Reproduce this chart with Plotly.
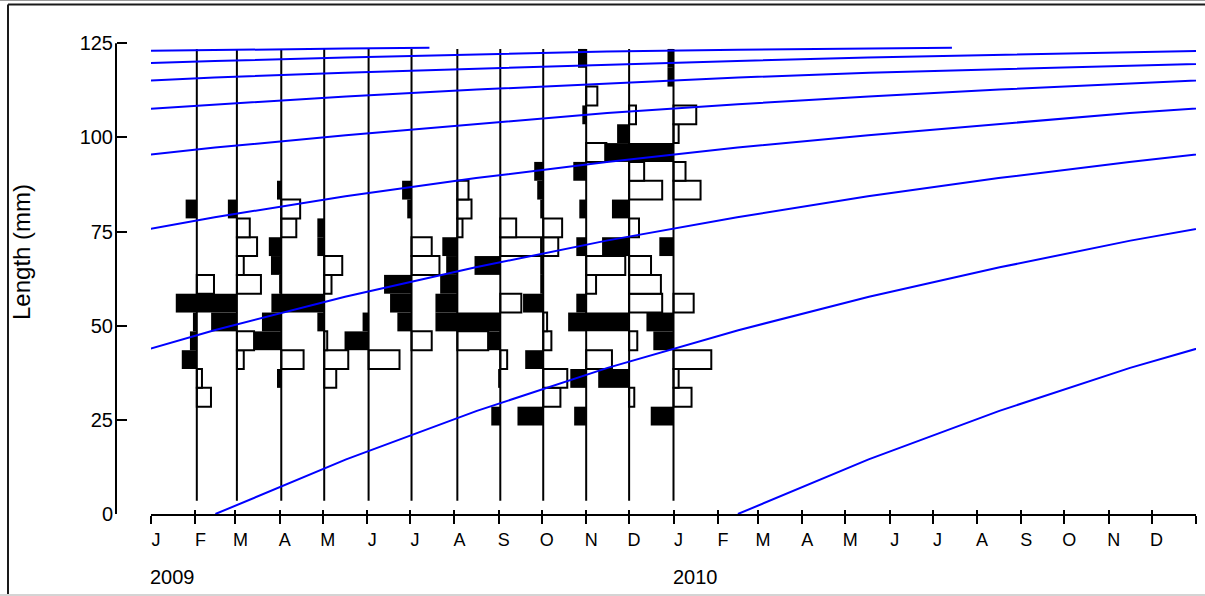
import pandas as pd
import plotly.graph_objects as go

# ---------------------------------------------------------------------------
# Length-frequency samples (restructured scores, 5 mm classes)
# positive score = peak (black, drawn to the left of the sample line)
# negative score = trough (open box, drawn to the right)
# ---------------------------------------------------------------------------
length_classes = [26, 31, 36, 41, 46, 51, 56, 61, 66, 71,
                  76, 81, 86, 91, 96, 101, 106, 111, 116, 121]

sample_dates = ["2009-02-02", "2009-03-02", "2009-04-02", "2009-05-02",
                "2009-06-02", "2009-07-02", "2009-08-03", "2009-09-02",
                "2009-10-02", "2009-11-01", "2009-12-01", "2010-01-01"]

scores_feb_2009 = [0, -0.33, -0.12, 0.35, 0.16, 0.09, 0.49, -0.40, 0, 0,
                   0, 0.26, 0, 0, 0, 0, 0, 0, 0, 0]
scores_mar_2009 = [0, 0, 0, -0.16, -0.40, 0.60, 0.93, -0.56, -0.16, -0.47,
                   -0.30, 0.21, 0, 0, 0, 0, 0, 0, 0, 0]
scores_apr_2009 = [0, 0, 0.10, -0.52, 0.63, 0.45, 0.23, 0.05, 0.24, 0.29,
                   -0.35, -0.44, 0.10, 0, 0, 0, 0, 0, 0, 0]
scores_may_2009 = [0, 0, -0.28, -0.56, -0.07, 0.16, 0.99, -0.17, -0.42, 0.16,
                   0.16, 0, 0, 0, 0, 0, 0, 0, 0, 0]
scores_jun_2009 = [0, 0, 0, -0.72, 0.56, 0.14, 0, 0, 0, 0,
                   0, 0, 0, 0, 0, 0, 0, 0, 0, 0]
scores_jul_2009 = [0, 0, 0, 0, -0.47, 0.33, 0.50, 0.64, -0.65, -0.47,
                   0, 0.10, 0.22, 0, 0, 0, 0, 0, 0, 0]
scores_aug_2009 = [0, 0, 0, 0, -0.72, 0.51, 0.51, 0.40, 0.26, 0.35,
                   -0.12, -0.33, -0.26, 0, 0, 0, 0, 0, 0, 0]
scores_sep_2009 = [0.21, 0, 0.05, -0.16, 0.30, 1.02, -0.49, 0, 0.60, -0.95,
                   -0.37, 0, 0, 0, 0, 0, 0, 0, 0, 0]
scores_oct_2009 = [0.60, -0.40, -0.56, 0.42, -0.19, -0.09, 0.47, 0.07, 0.07, -0.35,
                   -0.44, 0.07, 0.14, 0.21, 0, 0, 0, 0, 0, 0]
scores_nov_2009 = [0.28, 0, 0.37, -0.60, 0, 0.42, 0.23, -0.23, -0.91, 0.23,
                   0, 0.16, 0, 0.30, -0.47, 0, 0.09, -0.26, 0, 0.19]
scores_dec_2009 = [0, -0.12, 0.72, 0, -0.19, 1.00, -0.77, -0.74, -0.51, 0.63,
                   -0.23, 0.40, -0.77, -0.35, 0.58, 0.28, -0.16, 0, 0, 0]
scores_jan_2010 = [0.53, -0.42, -0.12, -0.88, 0.47, 0.63, -0.47, 0, 0, 0.33,
                   0, 0, -0.63, -0.28, 1.05, -0.12, -0.53, 0, 0.14, 0.14]

samples = [scores_feb_2009, scores_mar_2009, scores_apr_2009, scores_may_2009,
           scores_jun_2009, scores_jul_2009, scores_aug_2009, scores_sep_2009,
           scores_oct_2009, scores_nov_2009, scores_dec_2009, scores_jan_2010]

# ---------------------------------------------------------------------------
# Growth curve: length at age (years since recruitment), one curve per cohort
# ---------------------------------------------------------------------------
growth_age_years = [0, 0.25, 0.5, 0.75, 1.0, 1.25, 1.5, 1.75, 2.0, 2.25,
                    2.5, 2.75, 3.0, 3.25, 3.5, 3.75, 4.0, 4.25, 4.5, 4.75,
                    5.0, 5.25, 5.5, 5.75, 6.0, 6.25, 6.5, 6.75, 7.0, 7.25, 7.41]
growth_length_mm = [0, 14.5, 27.4, 38.8, 48.8, 57.7, 65.5, 72.6, 78.8, 84.4,
                    89.2, 93.5, 97.3, 100.6, 103.6, 106.5, 108.8, 110.9, 112.7, 114.4,
                    115.9, 117.2, 118.3, 119.3, 120.3, 121.2, 122.0, 122.8, 123.3, 123.6, 123.8]
cohort_birth_dates = ["2002-02-15", "2003-02-15", "2004-02-15", "2005-02-15",
                      "2006-02-15", "2007-02-15", "2008-02-15", "2009-02-15",
                      "2010-02-15"]

# Axis labelling
month_letters = ["J", "F", "M", "A", "M", "J", "J", "A", "S", "O", "N", "D"]
year_labels = ["2009", "2010"]
y_tick_values = [0, 25, 50, 75, 100, 125]

# ---------------------------------------------------------------------------
# Drawing constants
# ---------------------------------------------------------------------------
DAY_MS = 86_400_000
SCORE_DAYS = 30.0            # horizontal extent (days) of a score of 1.0
CLASS_WIDTH = 5
LENGTH_RANGE = (3.5, 123.5)  # span of the length classes on each sample line
X_START, X_END = "2009-01-01", "2011-01-01"
FONT = "Liberation Sans, Arial, sans-serif"
BLUE = "#0000ff"

W, H = 1205, 596
ML, MR, MT, MB = 116, 9, 32, 82
PW, PH = W - ML - MR, H - MT - MB


def px_x(px):
    return (px - ML) / PW


def px_y(py):
    return (H - MB - py) / PH


# Split scores into peak (black) and trough (open) bars
peak_y, peak_x, peak_base = [], [], []
trough_y, trough_x, trough_base = [], [], []
for date, scores in zip(sample_dates, samples):
    for length, s in zip(length_classes, scores):
        extent = -s * SCORE_DAYS * DAY_MS
        if s > 0:
            peak_y.append(length); peak_x.append(extent); peak_base.append(date)
        elif s < 0:
            trough_y.append(length); trough_x.append(extent); trough_base.append(date)

fig = go.Figure()

# Open trough boxes
fig.add_trace(go.Bar(
    orientation="h", y=trough_y, x=trough_x, base=trough_base, width=CLASS_WIDTH,
    marker=dict(color="white", line=dict(color="black", width=2)),
    hoverinfo="skip", showlegend=False))

# Sample lines
line_x, line_y = [], []
for date in sample_dates:
    line_x += [date, date, None]
    line_y += [LENGTH_RANGE[0], LENGTH_RANGE[1], None]
fig.add_trace(go.Scatter(
    x=line_x, y=line_y, mode="lines", line=dict(color="black", width=2),
    hoverinfo="skip", showlegend=False))

# Black peak bars
fig.add_trace(go.Bar(
    orientation="h", y=peak_y, x=peak_x, base=peak_base, width=CLASS_WIDTH,
    marker=dict(color="black", line=dict(color="black", width=0)),
    hoverinfo="skip", showlegend=False))

# Growth curves, one per cohort
for birth in cohort_birth_dates:
    t0 = pd.Timestamp(birth)
    xs = [t0 + pd.Timedelta(days=a * 365.25) for a in growth_age_years]
    fig.add_trace(go.Scatter(
        x=xs, y=growth_length_mm, mode="lines",
        line=dict(color=BLUE, width=2), hoverinfo="skip", showlegend=False))

# Month ticks
month_starts = pd.date_range(X_START, X_END, freq="MS")
tick_text = (month_letters * 2 + [""])[:len(month_starts)]

x_domain = [px_x(151), 1.0]

fig.update_layout(
    width=W, height=H,
    margin=dict(l=ML, r=MR, t=MT, b=MB, pad=0),
    paper_bgcolor="white", plot_bgcolor="white",
    barmode="overlay",
    showlegend=False,
    font=dict(family=FONT, color="black", size=18),
    xaxis=dict(
        type="date", domain=x_domain, range=[X_START, X_END], anchor="y",
        showline=True, linecolor="black", linewidth=2,
        ticks="outside", ticklen=8, tickwidth=2, tickcolor="black",
        tickmode="array", tickvals=month_starts, ticktext=tick_text,
        tickfont=dict(family=FONT, size=18, color="black"),
        ticklabelshift=5,
        showgrid=False, zeroline=False, fixedrange=True,
    ),
    xaxis2=dict(
        type="date", domain=x_domain, range=[X_START, X_END], anchor="y",
        overlaying="x", showline=False,
        ticks="inside", ticklen=4, tickwidth=2, tickcolor="black",
        tickmode="array", tickvals=month_starts, showticklabels=False,
        showgrid=False, zeroline=False,
    ),
    yaxis=dict(
        range=[0, 128], anchor="free", position=0,
        showline=False,
        ticks="inside", ticklen=10, tickwidth=2, tickcolor="black",
        tickmode="array", tickvals=y_tick_values,
        tickfont=dict(family=FONT, size=20, color="black"),
        ticklabelstandoff=3,
        showgrid=False, zeroline=False, fixedrange=True,
    ),
)

# Empty trace so the overlay axis (crossing tick halves) is rendered
fig.add_trace(go.Scatter(x=[X_START], y=[None], xaxis="x2", yaxis="y",
                         mode="lines", hoverinfo="skip", showlegend=False))

# Y axis line (0 to 125 only)
fig.add_shape(type="line", xref="paper", yref="y", x0=0, x1=0, y0=0, y1=125,
              line=dict(color="black", width=2))

# Window frame
frame = [
    (0, 0.5, W, 0.5, "#9a9a9a", 1),
    (8, 4.5, W, 4.5, "#1a1a1a", 2),
    (8, 4.5, 8, H, "#1a1a1a", 2),
    (0, 595, W, 595, "#d4d4d4", 2),
]
for x0, y0, x1, y1, col, wd in frame:
    fig.add_shape(type="line", xref="paper", yref="paper",
                  x0=px_x(x0), x1=px_x(x1), y0=px_y(y0), y1=px_y(y1),
                  line=dict(color=col, width=wd))

# Axis title
fig.add_annotation(text="Length (mm)", xref="paper", yref="paper",
                   x=px_x(21), y=px_y(252), textangle=-90, showarrow=False,
                   xanchor="center", yanchor="middle",
                   font=dict(family=FONT, size=24, color="black"))

# Year labels under January
for label in year_labels:
    fig.add_annotation(text=label, xref="x", yref="paper",
                       x=f"{label}-01-01", y=px_y(577), showarrow=False,
                       xanchor="left", yanchor="middle", xshift=-3,
                       font=dict(family=FONT, size=20, color="black"))

fig.write_html("out.html")
